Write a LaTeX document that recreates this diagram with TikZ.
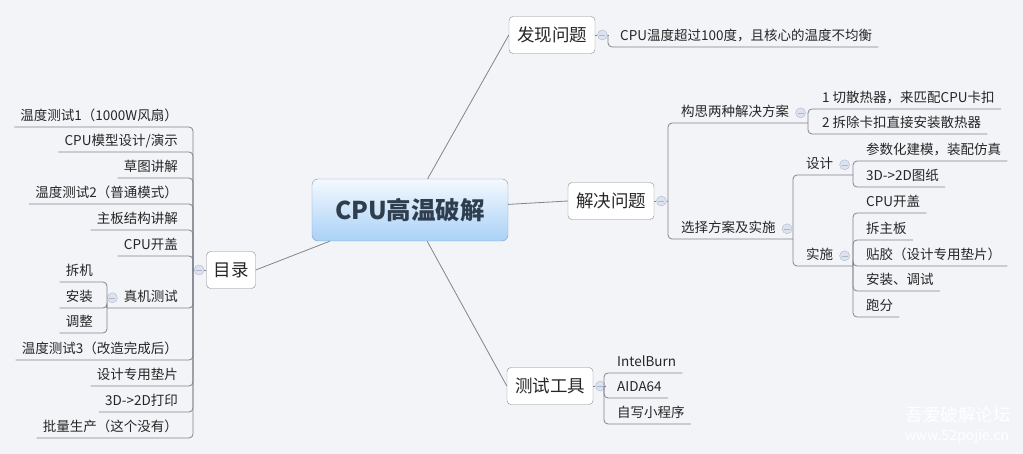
\documentclass[tikz,border=0pt]{standalone}
\usepackage{fontspec}
\setmainfont{Noto Sans CJK SC}
\usepackage{tikz}
\usetikzlibrary{positioning}

\definecolor{bgcol}{HTML}{F3F4F8}
\definecolor{linecol}{HTML}{80848C}
\definecolor{textcol}{HTML}{262626}
\definecolor{boxdraw}{HTML}{8A8A8A}
\definecolor{foldcol}{HTML}{DCE2EE}
\definecolor{folddraw}{HTML}{AEB8CB}
\definecolor{roottop}{HTML}{F4F9FE}
\definecolor{rootbottom}{HTML}{A9D1F7}
\definecolor{rootdraw}{HTML}{7C9CBD}
\definecolor{roottext}{HTML}{2E3E4E}

\begin{document}
\begin{tikzpicture}[
    x=1pt, y=-1pt,
    rootbox/.style={draw=rootdraw, rounded corners=6pt, top color=roottop, bottom color=rootbottom,
        minimum width=196pt, minimum height=62pt, text=roottext,
        font=\fontsize{24.5}{27}\selectfont\bfseries},
    mainbox/.style={draw=boxdraw, fill=white, rounded corners=4pt, minimum height=37pt,
        inner xsep=8pt, text=textcol, font=\fontsize{17.5}{20}\selectfont},
    leaf/.style={inner xsep=6pt, inner ysep=3.5pt, text height=10pt, text depth=3pt,
        text=textcol, font=\fontsize{13.5}{15}\selectfont},
    fold/.style={circle, draw=folddraw, fill=foldcol, minimum size=10pt, inner sep=0pt,
        path picture={\draw[folddraw] ([xshift=-3pt]path picture bounding box.center)
            -- ([xshift=3pt]path picture bounding box.center);}},
    branch/.style={draw=linecol, line width=0.8pt, rounded corners=4pt},
    wmtext/.style={text=white, font=\fontsize{17.5}{20}\selectfont}
    ]
    \useasboundingbox (0,0) rectangle (1023,454);
    \fill[bgcol] (0,0) rectangle (1023,454);

    \node[rootbox] (cpu) at (410,210) {CPU高温破解};

    \node[mainbox] (fx) at (552,35) {发现问题};
    \node[mainbox] (jj) at (611,201) {解决问题};
    \node[mainbox] (cs) at (550,386) {测试工具};
    \node[mainbox, inner xsep=7pt] (ml) at (231,270) {目录};

    \draw[branch] (cpu) -- (fx.west);
    \draw[branch] (cpu) -- (jj.west);
    \draw[branch] (cpu) -- (cs.west);
    \draw[branch] (cpu) -- (ml.east);

    \node[fold, right=2pt of fx] (fxm) {};
    \node[fold, right=2pt of jj] (jjm) {};
    \node[fold, right=2pt of cs] (csm) {};
    \node[fold, left=2pt of ml] (mlm) {};

    \coordinate (fxj) at (608,35);
    \coordinate (jjj) at (668,201);
    \coordinate (csj) at (604,386);
    \coordinate (mlj) at (193,270);

    \draw[branch] (fx) -- (fxm);
    \draw[branch] (fxm) -- (fxj);
    \draw[branch] (jj) -- (jjm);
    \draw[branch] (jjm) -- (jjj);
    \draw[branch] (cs) -- (csm);
    \draw[branch] (csm) -- (csj);
    \draw[branch] (ml) -- (mlm);
    \draw[branch] (mlm) -- (mlj);

    % 发现问题
    \node[leaf, anchor=south west] (fx1) at (614,47) {CPU温度超过100度，且核心的温度不均衡};
    \draw[branch] (fxj) |- (fx1.south east);

    % 解决问题
    \node[leaf, anchor=south west] (gs) at (675,123) {构思两种解决方案};
    \node[leaf, anchor=south west] (xz) at (675,239) {选择方案及实施};
    \node[fold, right=0pt of gs] (gsm) {};
    \node[fold, right=0pt of xz] (xzm) {};
    \coordinate (gsj) at (808,123);
    \coordinate (xzj) at (793,239);
    \draw[branch] (jjj) |- (gsj);
    \draw[branch] (jjj) |- (xzj);

    \node[leaf, anchor=south west] (gs1) at (816,109) {1 切散热器，来匹配CPU卡扣};
    \node[leaf, anchor=south west] (gs2) at (816,134) {2 拆除卡扣直接安装散热器};
    \draw[branch] (gsj) |- (gs1.south east);
    \draw[branch] (gsj) |- (gs2.south east);

    \node[leaf, anchor=south west] (sj) at (800,175) {设计};
    \node[leaf, anchor=south west] (ss) at (800,266) {实施};
    \node[fold, right=0pt of sj] (sjm) {};
    \node[fold, right=0pt of ss] (ssm) {};
    \coordinate (sjj) at (853,175);
    \coordinate (ssj) at (853,266);
    \draw[branch] (xzj) |- (sjj);
    \draw[branch] (xzj) |- (ssj);

    \node[leaf, anchor=south west] (sj1) at (860,161) {参数化建模，装配仿真};
    \node[leaf, anchor=south west] (sj2) at (860,187) {3D->2D图纸};
    \draw[branch] (sjj) |- (sj1.south east);
    \draw[branch] (sjj) |- (sj2.south east);

    \node[leaf, anchor=south west] (ss1) at (860,213) {CPU开盖};
    \node[leaf, anchor=south west] (ss2) at (860,240) {拆主板};
    \node[leaf, anchor=south west] (ss3) at (860,266) {贴胶（设计专用垫片）};
    \node[leaf, anchor=south west] (ss4) at (860,291) {安装、调试};
    \node[leaf, anchor=south west] (ss5) at (860,317) {跑分};
    \draw[branch] (ssj) |- (ss1.south east);
    \draw[branch] (ssj) |- (ss2.south east);
    \draw[branch] (ssj) |- (ss3.south east);
    \draw[branch] (ssj) |- (ss4.south east);
    \draw[branch] (ssj) |- (ss5.south east);

    % 测试工具
    \node[leaf, anchor=south west] (cs1) at (611,373) {IntelBurn};
    \node[leaf, anchor=south west] (cs2) at (611,398) {AIDA64};
    \node[leaf, anchor=south west] (cs3) at (611,424) {自写小程序};
    \draw[branch] (csj) |- (cs1.south east);
    \draw[branch] (csj) |- (cs2.south east);
    \draw[branch] (csj) |- (cs3.south east);

    % 目录
    \node[leaf, anchor=south east] (ml1) at (184,127) {温度测试1（1000W风扇）};
    \node[leaf, anchor=south east] (ml2) at (184,152) {CPU模型设计/演示};
    \node[leaf, anchor=south east] (ml3) at (184,178) {草图讲解};
    \node[leaf, anchor=south east] (ml4) at (184,204) {温度测试2（普通模式）};
    \node[leaf, anchor=south east] (ml5) at (184,230) {主板结构讲解};
    \node[leaf, anchor=south east] (ml6) at (184,256) {CPU开盖};
    \node[leaf, anchor=south east] (zj) at (184,308) {真机测试};
    \node[leaf, anchor=south east] (ml8) at (184,360) {温度测试3（改造完成后）};
    \node[leaf, anchor=south east] (ml9) at (184,386) {设计专用垫片};
    \node[leaf, anchor=south east] (ml10) at (184,412) {3D->2D打印};
    \node[leaf, anchor=south east] (ml11) at (184,438) {批量生产（这个没有）};
    \draw[branch] (mlj) |- (ml1.south west);
    \draw[branch] (mlj) |- (ml2.south west);
    \draw[branch] (mlj) |- (ml3.south west);
    \draw[branch] (mlj) |- (ml4.south west);
    \draw[branch] (mlj) |- (ml5.south west);
    \draw[branch] (mlj) |- (ml6.south west);
    \draw[branch] (mlj) |- (ml8.south west);
    \draw[branch] (mlj) |- (ml9.south west);
    \draw[branch] (mlj) |- (ml10.south west);
    \draw[branch] (mlj) |- (ml11.south west);

    \node[fold, left=0pt of zj] (zjm) {};
    \coordinate (zjj) at (107,308);
    \draw[branch] (mlj) |- (zjj);
    \node[leaf, anchor=south east] (zj1) at (99,282) {拆机};
    \node[leaf, anchor=south east] (zj2) at (99,308) {安装};
    \node[leaf, anchor=south east] (zj3) at (99,333) {调整};
    \draw[branch] (zjj) |- (zj1.south west);
    \draw[branch] (zjj) |- (zj2.south west);
    \draw[branch] (zjj) |- (zj3.south west);

    \node[wmtext] (wm) at (958,415) {吾爱破解论坛};
    \node[wmtext, font=\fontsize{14}{16}\selectfont] (wmurl) at (957,437) {www.52pojie.cn};
\end{tikzpicture}
\end{document}
